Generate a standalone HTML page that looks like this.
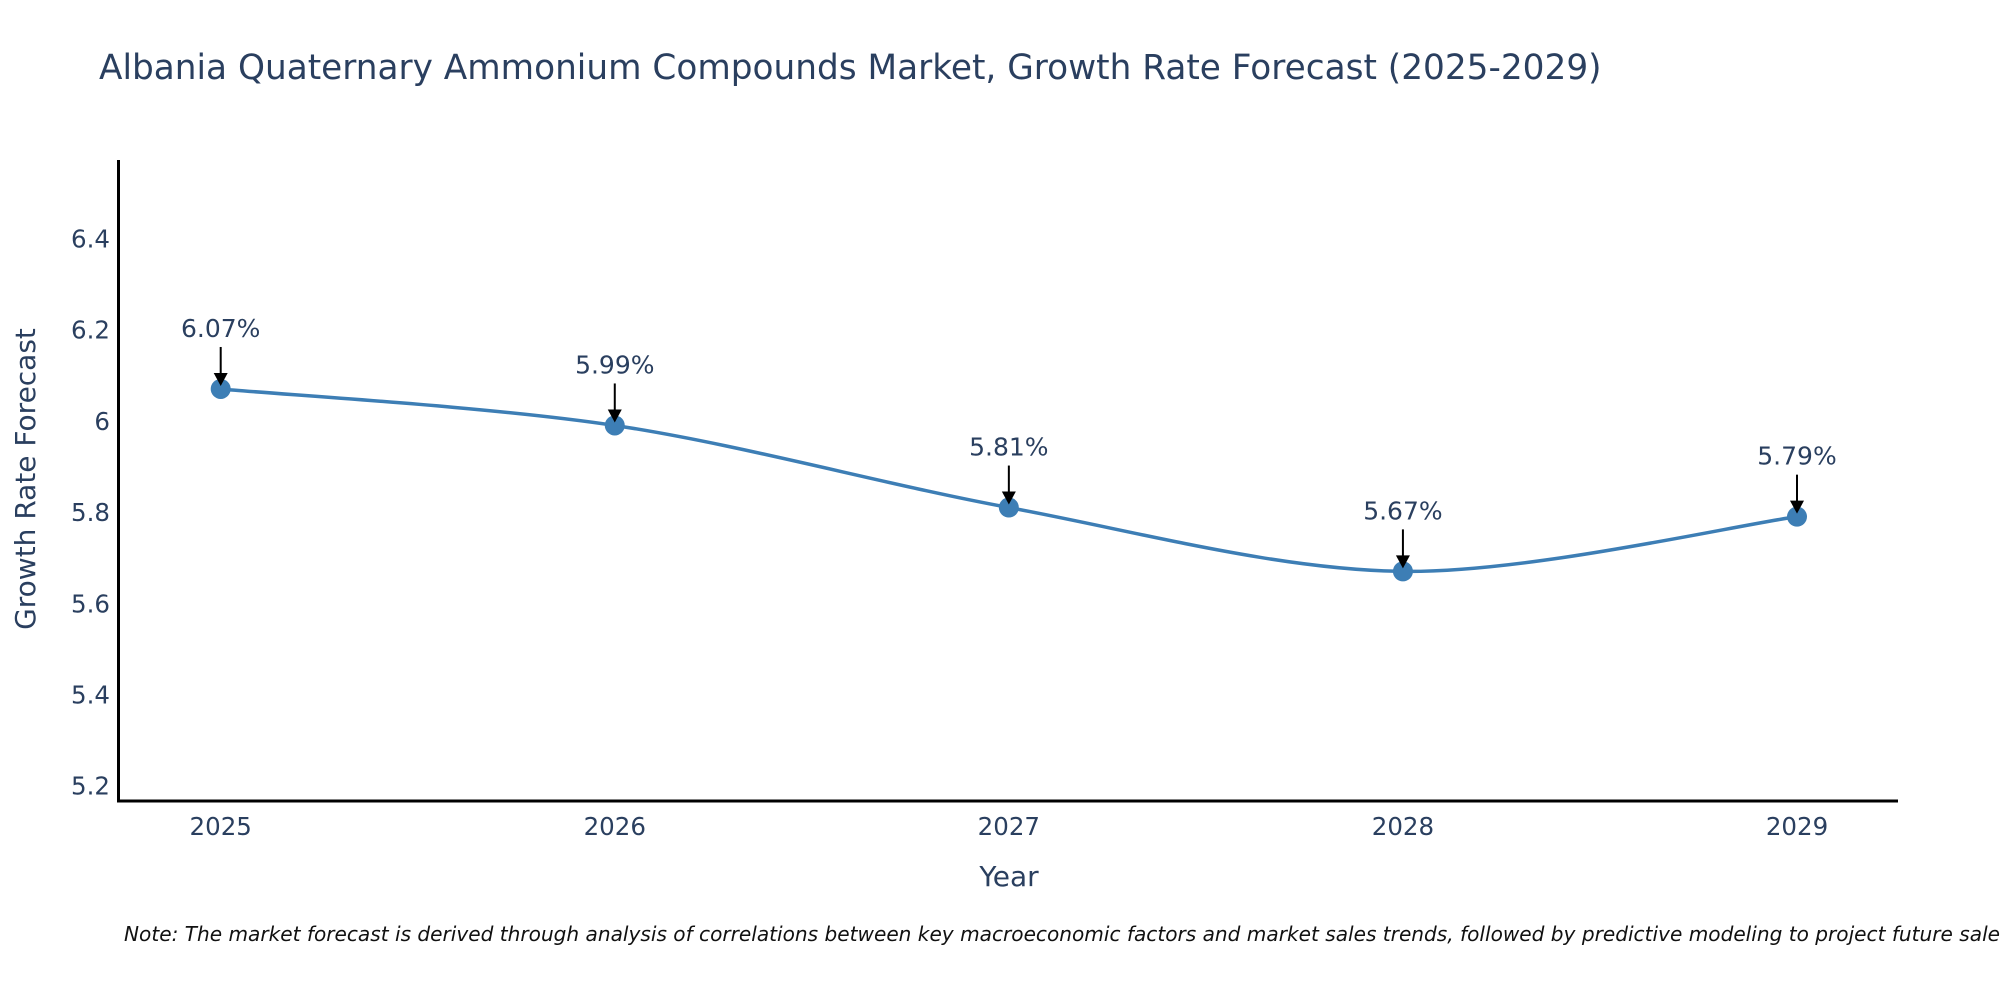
<!DOCTYPE html>
<html><head><meta charset="utf-8"><style>
body{margin:0;background:#fff}
svg{display:block;font-family:"DejaVu Sans","Liberation Sans",sans-serif}
</style></head><body>
<svg id="c" width="2000" height="1000">
<text x="99" y="79" font-size="34.3" fill="#2a3f5f">Albania Quaternary Ammonium Compounds Market, Growth Rate Forecast (2025-2029)</text>
<g id="yt"></g><g id="xt"></g>
<line x1="118.5" y1="160" x2="118.5" y2="802" stroke="#000" stroke-width="3"/>
<line x1="117" y1="801" x2="1898" y2="801" stroke="#000" stroke-width="3"/>
<text transform="translate(35,479) rotate(-90)" text-anchor="middle" font-size="28" fill="#2a3f5f">Growth Rate Forecast</text>
<text x="1009" y="886" text-anchor="middle" font-size="28" fill="#2a3f5f">Year</text>
<text x="124" y="941" font-size="20.1" font-style="italic" fill="#111">Note: The market forecast is derived through analysis of correlations between key macroeconomic factors and market sales trends, followed by predictive modeling to project future sales.</text>
<path id="ln" fill="none" stroke="#3d7eb5" stroke-width="3.5"/>
<g id="pts"></g>
</svg>
<script>
const years=[2025,2026,2027,2028,2029];
const values=[6.07,5.99,5.81,5.67,5.79];
const labels=["6.07%","5.99%","5.81%","5.67%","5.79%"];
const yTicks=[5.2,5.4,5.6,5.8,6.0,6.2,6.4];
const yTickLabels=["5.2","5.4","5.6","5.8","6","6.2","6.4"];
const NS="http://www.w3.org/2000/svg";
const xs=y=>220.7+(y-2025)*(1797-220.7)/4;
const ys=v=>785.7-(v-5.2)*456;
function mk(t,a,p){const e=document.createElementNS(NS,t);for(const k in a)e.setAttribute(k,a[k]);p.appendChild(e);return e;}
const yt=document.getElementById('yt'),xt=document.getElementById('xt'),pts=document.getElementById('pts');
yTicks.forEach((v,i)=>{const t=mk('text',{x:110,y:ys(v)+9,'text-anchor':'end','font-size':24.5,fill:'#2a3f5f'},yt);t.textContent=yTickLabels[i];

});
years.forEach(y=>{const t=mk('text',{x:xs(y),y:835,'text-anchor':'middle','font-size':24.5,fill:'#2a3f5f'},xt);t.textContent=y;

});
const P=years.map((y,i)=>[xs(y),ys(values[i])]);
let d=`M${P[0][0]},${P[0][1]}`;const k=0.16;
for(let i=0;i<P.length-1;i++){const p0=P[i-1]||P[i],p1=P[i],p2=P[i+1],p3=P[i+2]||P[i+1];
d+=` C${p1[0]+(p2[0]-p0[0])*k},${p1[1]+(p2[1]-p0[1])*k} ${p2[0]-(p3[0]-p1[0])*k},${p2[1]-(p3[1]-p1[1])*k} ${p2[0]},${p2[1]}`;}
document.getElementById('ln').setAttribute('d',d);
P.forEach((p,i)=>{const c=mk('circle',{cx:p[0],cy:p[1],r:10,fill:'#3d7eb5'},pts);


const l=mk('line',{x1:p[0],y1:p[1]-42,x2:p[0],y2:p[1]-14,stroke:'#000','stroke-width':2},pts);


const h=mk('polygon',{points:`${p[0]-7},${p[1]-16} ${p[0]+7},${p[1]-16} ${p[0]},${p[1]-3}`,fill:'#000'},pts);


const t=mk('text',{x:p[0],y:p[1]-52,'text-anchor':'middle','font-size':25,fill:'#2a3f5f'},pts);t.textContent=labels[i];

});
</script>
</body></html>
